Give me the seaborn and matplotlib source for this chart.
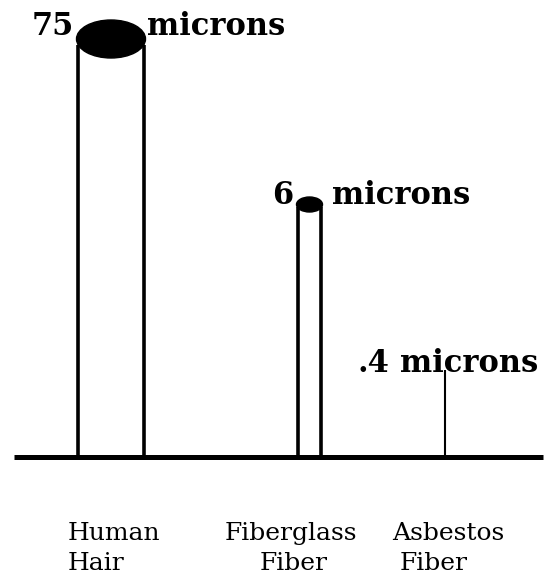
import matplotlib
matplotlib.use("Agg")
import matplotlib.pyplot as plt
from matplotlib.patches import Ellipse
import seaborn as sns

sns.set_theme(style="white")
plt.rcParams['font.family'] = ['DejaVu Serif']
plt.rcParams['text.color'] = 'black'

# data
fiber_lines_1 = ['Human', 'Fiberglass', 'Asbestos']
fiber_lines_2 = ['Hair', 'Fiber', 'Fiber']
diameter_um = [75, 6, 0.4]
size_labels = ['75', '6', '.4']
unit = 'microns'

# layout (pixel coordinates, y downwards)
W, H = 553, 575
BASE_Y = 456.5
col_x = [111, 309.5, 445]          # column centres
col_w = [66, 23, 0]                # drawn widths (schematic, not to scale)
col_top = [39, 204.5, 370]         # top of each column
cap_h = [38, 15, 0]                # height of the top ellipse
num_x = [32, 272, 357]
unit_x = [147, 332, 400]
lbl_x1 = [68, 225, 392]
lbl_x2 = [68, 260, 400]

fig = plt.figure(figsize=(W / 100, H / 100), dpi=100)
ax = fig.add_axes([0, 0, 1, 1])
ax.set_xlim(0, W)
ax.set_ylim(H, 0)
ax.axis('off')

# ground line
ax.plot([14, 543], [BASE_Y, BASE_Y], color='black', lw=3.6, solid_capstyle='butt')

for i, d in enumerate(diameter_um):
    cx, w, top, ch = col_x[i], col_w[i], col_top[i], cap_h[i]
    if w > 0:
        ax.vlines([cx - w / 2, cx + w / 2], top + ch * 0.15, BASE_Y,
                  color='black', lw=2.6)
        ax.add_patch(Ellipse((cx, top), w + 3, ch, color='black', zorder=3))
    else:
        ax.vlines(cx, top, BASE_Y, color='black', lw=1.5)

    # diameter label above the column
    ty = top - 4 if i == 0 else top - 1
    if i == 2:
        ty = top + 2
    ax.text(num_x[i], ty, size_labels[i], fontsize=22, fontweight='bold',
            ha='left', va='baseline')
    ax.text(unit_x[i], ty, unit, fontsize=22, fontweight='bold',
            ha='left', va='baseline')

    # fiber names under the ground line
    ax.text(lbl_x1[i], 540, fiber_lines_1[i], fontsize=18, ha='left', va='baseline')
    ax.text(lbl_x2[i], 570, fiber_lines_2[i], fontsize=18, ha='left', va='baseline')

fig.savefig('out.png', dpi=100, facecolor='white')
